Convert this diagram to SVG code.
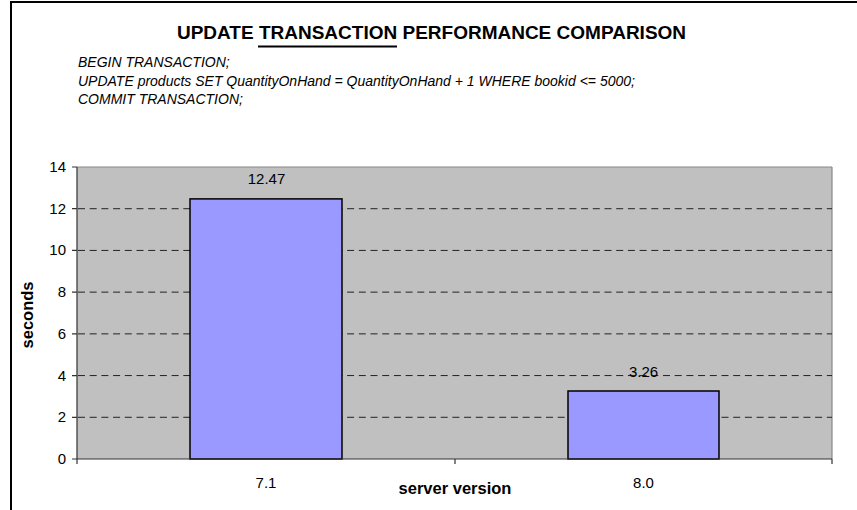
<svg xmlns="http://www.w3.org/2000/svg" width="857" height="510" viewBox="0 0 857 510">
  <style>
    text { font-family: "Liberation Sans", Arial, sans-serif; fill: #000; }
    .title { font-size: 19px; font-weight: bold; }
    .sql { font-size: 14px; font-style: italic; }
    .tick { font-size: 15px; text-anchor: end; }
    .cat { font-size: 15px; text-anchor: middle; }
    .val { font-size: 15px; text-anchor: middle; }
    .axt { font-size: 16.5px; font-weight: bold; text-anchor: middle; }
    .grid { stroke: #222; stroke-width: 1; stroke-dasharray: 7 4.7; }
    .bar { fill: #9999FF; stroke: #000; stroke-width: 1.5; }
    .axis { stroke: #333; stroke-width: 1.2; fill: none; }
  </style>
  <rect x="0" y="0" width="857" height="510" fill="#fff"/>
  <g id="frame">
    <path d="M11,510 L11,2 L857,2" fill="none" stroke="#000" stroke-width="2"/>
  </g>
  <g id="title">
    <text class="title" x="431.5" y="39" text-anchor="middle">UPDATE TRANSACTION PERFORMANCE COMPARISON</text>
    <line x1="258" y1="46.5" x2="397" y2="46.5" stroke="#000" stroke-width="1.8"/>
  </g>
  <g id="query">
    <text class="sql" x="78" y="67">BEGIN TRANSACTION;</text>
    <text class="sql" x="78" y="86">UPDATE products SET QuantityOnHand = QuantityOnHand + 1 WHERE bookid &lt;= 5000;</text>
    <text class="sql" x="78" y="104">COMMIT TRANSACTION;</text>
  </g>
  <g id="plot-area">
    <rect x="77" y="167" width="755" height="292" fill="#C0C0C0"/>
    <line x1="77" y1="167" x2="832" y2="167" stroke="#888" stroke-width="1.2"/>
    <line x1="832" y1="167" x2="832" y2="459" stroke="#888" stroke-width="1.2"/>
    <g id="gridlines">
      <line class="grid" x1="78" y1="208.71" x2="832" y2="208.71"/>
      <line class="grid" x1="78" y1="250.43" x2="832" y2="250.43"/>
      <line class="grid" x1="78" y1="292.14" x2="832" y2="292.14"/>
      <line class="grid" x1="78" y1="333.86" x2="832" y2="333.86"/>
      <line class="grid" x1="78" y1="375.57" x2="832" y2="375.57"/>
      <line class="grid" x1="78" y1="417.29" x2="832" y2="417.29"/>
    </g>
  </g>
  <g id="bar-7.1">
    <rect class="bar" x="190" y="198.9" width="152" height="260.1"/>
    <text class="val" x="266.5" y="184">12.47</text>
  </g>
  <g id="bar-8.0">
    <rect class="bar" x="568" y="391" width="151" height="68"/>
    <text class="val" x="643.5" y="376.5">3.26</text>
  </g>
  <g id="axes">
    <path class="axis" d="M77,167 L77,464 M77,459 L832,459 M455,459 L455,464 M832,459 L832,464"/>
    <path class="axis" d="M72,167 L77,167 M72,208.71 L77,208.71 M72,250.43 L77,250.43 M72,292.14 L77,292.14 M72,333.86 L77,333.86 M72,375.57 L77,375.57 M72,417.29 L77,417.29 M72,459 L77,459"/>
    <text class="tick" x="66" y="172">14</text>
    <text class="tick" x="66" y="213.7">12</text>
    <text class="tick" x="66" y="255.4">10</text>
    <text class="tick" x="66" y="297.1">8</text>
    <text class="tick" x="66" y="338.9">6</text>
    <text class="tick" x="66" y="380.6">4</text>
    <text class="tick" x="66" y="422.3">2</text>
    <text class="tick" x="66" y="464">0</text>
    <text class="cat" x="266" y="488">7.1</text>
    <text class="cat" x="643.5" y="488">8.0</text>
    <text class="axt" x="455" y="494">server version</text>
    <text class="axt" transform="translate(33,315) rotate(-90)" x="0" y="0">seconds</text>
  </g>
</svg>
